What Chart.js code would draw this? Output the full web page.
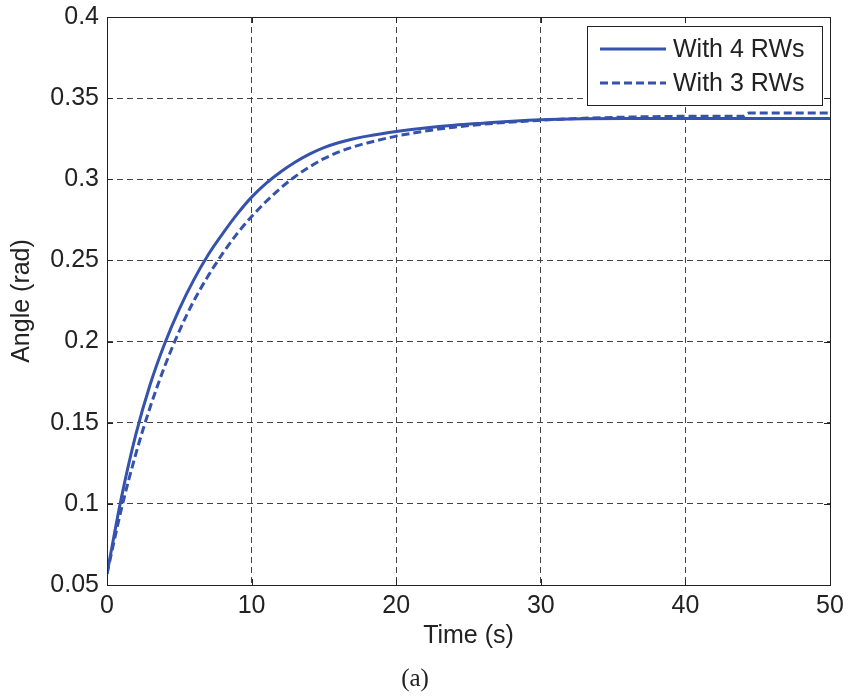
<!DOCTYPE html>
<html>
<head>
<meta charset="utf-8">
<script src="https://cdn.jsdelivr.net/npm/chart.js@4"></script>
<style>
  body { margin: 0; background: #fff; }
  canvas { display: block; }
</style>
</head>
<body>
<canvas id="grafico" width="852" height="698"></canvas>
<script>
// Dados (tempo em s, ângulo em rad)
const tempos4 = [0, 1, 2, 3, 4, 5, 6, 7, 8, 9, 10, 11, 12, 13, 14, 15, 16, 17, 18, 19, 20, 22, 24, 26, 28, 30, 33, 36, 50];
const angulo4 = [0.057, 0.104, 0.143, 0.174, 0.199, 0.220, 0.238, 0.2535, 0.2665, 0.2785, 0.289, 0.2975, 0.3045, 0.3105, 0.3155, 0.3195, 0.3225, 0.3248, 0.3266, 0.3281, 0.3294, 0.3316, 0.3333, 0.3346, 0.3358, 0.3367, 0.3373, 0.3375, 0.3375];

const tempos3 = [0, 1, 2, 3, 4, 5, 6, 7, 8, 9, 10, 11, 12, 13, 14, 15, 16, 17, 18, 19, 20, 22, 24, 26, 28, 30, 33, 36, 40, 44, 44.4, 50];
const angulo3 = [0.057, 0.097, 0.131, 0.160, 0.185, 0.2065, 0.225, 0.2405, 0.2543, 0.2665, 0.277, 0.2863, 0.2945, 0.3016, 0.3076, 0.3127, 0.3167, 0.3199, 0.3224, 0.3246, 0.3266, 0.3297, 0.3321, 0.3339, 0.3353, 0.3364, 0.3376, 0.3383, 0.3388, 0.3389, 0.3408, 0.3408];

const rotulos = ['With 4 RWs', 'With 3 RWs'];
const corLinha = '#3552ad';
const fonte = 'Liberation Sans, Arial, sans-serif';

const pontos = (xs, ys) => xs.map((x, i) => ({ x: x, y: ys[i] }));

// Moldura e marcas internas estilo MATLAB
const moldura = {
    id: 'moldura',
    afterDatasetsDraw(chart) {
        const { ctx, chartArea: a, scales } = chart;
        ctx.save();
        ctx.strokeStyle = '#222';
        ctx.lineWidth = 1;
        ctx.setLineDash([]);
        ctx.strokeRect(a.left + 0.5, a.top + 0.5, a.right - a.left, a.bottom - a.top);
        const t = 6;
        ctx.beginPath();
        scales.x.ticks.forEach(tk => {
            const px = Math.round(scales.x.getPixelForValue(tk.value)) + 0.5;
            ctx.moveTo(px, a.bottom); ctx.lineTo(px, a.bottom - t);
            ctx.moveTo(px, a.top); ctx.lineTo(px, a.top + t);
        });
        scales.y.ticks.forEach(tk => {
            const py = Math.round(scales.y.getPixelForValue(tk.value)) + 0.5;
            ctx.moveTo(a.left, py); ctx.lineTo(a.left + t, py);
            ctx.moveTo(a.right, py); ctx.lineTo(a.right - t, py);
        });
        ctx.stroke();
        ctx.restore();
    }
};

// Legenda dentro da área do gráfico, canto superior direito
const legendaInterna = {
    id: 'legendaInterna',
    afterDraw(chart) {
        const { ctx, chartArea: a } = chart;
        const w = 235, h = 79;
        const x0 = a.right - 8 - w, y0 = a.top + 9;
        ctx.save();
        ctx.fillStyle = '#fff';
        ctx.fillRect(x0, y0, w, h);
        ctx.strokeStyle = '#222';
        ctx.lineWidth = 1;
        ctx.strokeRect(x0 + 0.5, y0 + 0.5, w, h);
        ctx.font = '25px ' + fonte;
        ctx.textBaseline = 'middle';
        chart.data.datasets.forEach((ds, i) => {
            const yy = y0 + 23 + i * 34;
            ctx.strokeStyle = ds.borderColor;
            ctx.lineWidth = ds.borderWidth;
            ctx.setLineDash(ds.borderDash || []);
            ctx.beginPath();
            ctx.moveTo(x0 + 13, yy);
            ctx.lineTo(x0 + 79, yy);
            ctx.stroke();
            ctx.setLineDash([]);
            ctx.fillStyle = '#222';
            ctx.fillText(ds.label, x0 + 86, yy + 1);
        });
        ctx.restore();
    }
};

new Chart(document.getElementById('grafico'), {
    type: 'line',
    data: {
        datasets: [
            {
                label: rotulos[0],
                data: pontos(tempos4, angulo4),
                borderColor: corLinha,
                borderWidth: 3,
                pointRadius: 0,
                cubicInterpolationMode: 'monotone'
            },
            {
                label: rotulos[1],
                data: pontos(tempos3, angulo3),
                borderColor: corLinha,
                borderWidth: 3,
                borderDash: [8, 4],
                pointRadius: 0,
                cubicInterpolationMode: 'monotone'
            }
        ]
    },
    options: {
        responsive: false,
        animation: false,
        layout: { padding: { left: 0, right: 22, top: 17, bottom: 0 } },
        plugins: {
            legend: { display: false },
            tooltip: { enabled: false },
            title: {
                display: true,
                position: 'bottom',
                text: '(a)',
                color: '#222',
                font: { family: 'Liberation Serif, Times New Roman, serif', size: 25, weight: 'normal' },
                padding: { top: 6, bottom: 4 }
            }
        },
        scales: {
            x: {
                type: 'linear',
                min: 0,
                max: 50,
                ticks: { stepSize: 10, padding: 6, color: '#222', font: { family: fonte, size: 25 } },
                grid: { color: '#444', lineWidth: 1, drawTicks: false },
                border: { display: false, dash: [6, 4] },
                title: { display: true, text: 'Time (s)', color: '#222', font: { family: fonte, size: 25 }, padding: { top: 0, bottom: 7 } },
                afterFit(scale) { scale.height = 73; scale.paddingLeft = 0; scale.paddingRight = 0; }
            },
            y: {
                min: 0.05,
                max: 0.4,
                ticks: {
                    stepSize: 0.05,
                    padding: 8,
                    color: '#222',
                    font: { family: fonte, size: 25 },
                    callback: v => String(parseFloat(v.toFixed(2)))
                },
                grid: { color: '#444', lineWidth: 1, drawTicks: false },
                border: { display: false, dash: [6, 4] },
                title: { display: true, text: 'Angle (rad)', color: '#222', font: { family: fonte, size: 25 }, padding: { top: 7, bottom: 0 } },
                afterFit(scale) { scale.width = 107; scale.paddingTop = 0; scale.paddingBottom = 0; }
            }
        }
    },
    plugins: [moldura, legendaInterna]
});
</script>
</body>
</html>
